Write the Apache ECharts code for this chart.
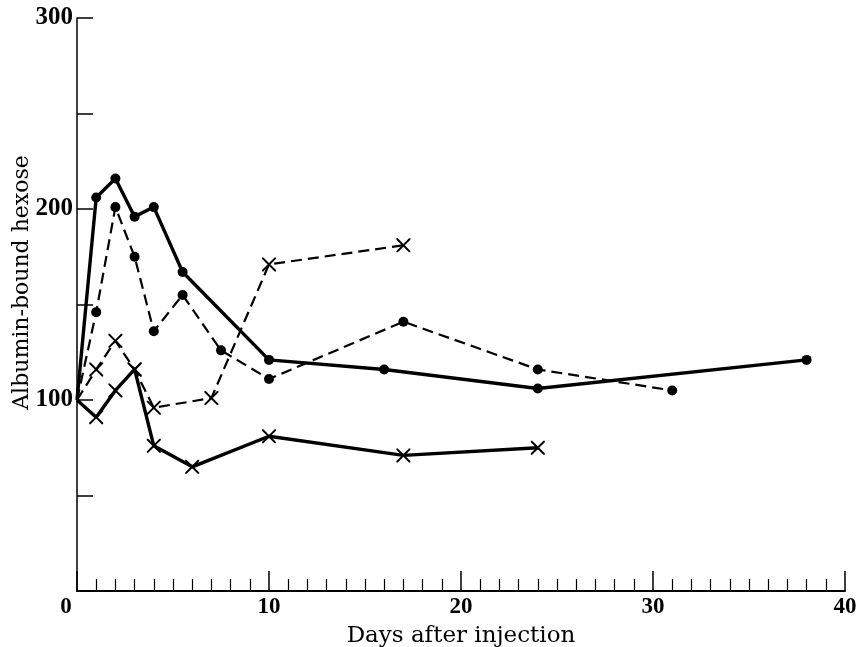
<!DOCTYPE html>
<html>
<head>
<meta charset="utf-8">
<script src="https://cdn.jsdelivr.net/npm/echarts@6/dist/echarts.min.js"></script>
<style>
  html, body { margin: 0; padding: 0; background: #fff; }
  #chart { width: 856px; height: 647px; }
</style>
</head>
<body>
<div id="chart"></div>
<script>
// days and values
const solidDotDays = [0, 1, 2, 3, 4, 5.5, 10, 16, 24, 38]
const solidDotVals = [100, 206, 216, 196, 201, 167, 121, 116, 106, 121]

const dashDotDays = [0, 1, 2, 3, 4, 5.5, 7.5, 10, 17, 24, 31]
const dashDotVals = [100, 146, 201, 175, 136, 155, 126, 111, 141, 116, 105]

const dashCrossDays = [0, 1, 2, 3, 4, 7, 10, 17]
const dashCrossVals = [100, 116, 131, 116, 96, 101, 171, 181]

const solidCrossDays = [0, 1, 2, 3, 4, 6, 10, 17, 24]
const solidCrossVals = [100, 91, 105, 116, 76, 65, 81, 71, 75]

const yLabels = [100, 200, 300]

const labelFont = 'Liberation Serif'
const titleFont = 'DejaVu Serif'
const cross = 'path://M0,0 L1,0 L5,4 L9,0 L10,0 L10,1 L6,5 L10,9 L10,10 L9,10 L5,6 L1,10 L0,10 L0,9 L4,5 L0,1 Z'

// the starting point (day 0) is drawn without a marker
function pairs(xs, ys) {
  return xs.map((x, i) => i === 0 ? { value: [x, ys[i]], symbol: 'none' } : [x, ys[i]])
}

function makeSeries(xs, ys, dashed, symbol) {
  return {
    type: 'line',
    data: pairs(xs, ys),
    symbol: symbol,
    symbolSize: symbol === 'circle' ? 10 : 14,
    showSymbol: true,
    itemStyle: { color: '#000' },
    lineStyle: {
      color: '#000',
      width: dashed ? 2.2 : 3.4,
      type: dashed ? [11, 6] : 'solid'
    },
    z: symbol === 'circle' ? 3 : 2
  }
}

let myChart = echarts.init(document.getElementById('chart'))
let option = {
  animation: false,
  backgroundColor: '#fff',
  grid: { left: 77, right: 11, top: 18, bottom: 56, outerBoundsMode: 'none', containLabel: false },
  xAxis: {
    type: 'value',
    min: 0,
    max: 40,
    interval: 10,
    name: 'Days after injection',
    nameLocation: 'middle',
    nameGap: 34,
    nameTextStyle: { fontFamily: titleFont, fontSize: 23, color: '#000' },
    axisLine: { lineStyle: { color: '#000', width: 2 } },
    axisTick: { inside: true, length: 20, lineStyle: { color: '#000', width: 1.5 } },
    minorTick: { show: true, splitNumber: 10, length: 12, lineStyle: { color: '#000', width: 1.2 } },
    splitLine: { show: false },
    axisLabel: {
      fontFamily: labelFont, fontSize: 23, fontWeight: 'bold', color: '#000', margin: 5,
      formatter: v => v === 0 ? '{z|0}' : String(v),
      rich: { z: { fontFamily: labelFont, fontSize: 23, fontWeight: 'bold', color: '#000', padding: [0, 22, 0, 0] } }
    }
  },
  yAxis: {
    type: 'value',
    min: 0,
    max: 300,
    interval: 50,
    name: 'Albumin-bound hexose',
    nameLocation: 'middle',
    nameRotate: 90,
    nameGap: 44,
    nameMoveOverlap: false,
    nameTextStyle: { fontFamily: titleFont, fontSize: 22, color: '#000', padding: [0, 0, 0, 44] },
    axisLine: { show: true, lineStyle: { color: '#000', width: 1.5 } },
    axisTick: { inside: true, length: 16, lineStyle: { color: '#000', width: 1.5 } },
    splitLine: { show: false },
    axisLabel: {
      fontFamily: labelFont, fontSize: 25, fontWeight: 'bold', color: '#000', margin: 4,
      formatter: v => yLabels.indexOf(v) >= 0 ? String(v) : ''
    }
  },
  series: [
    makeSeries(solidDotDays, solidDotVals, false, 'circle'),
    makeSeries(dashDotDays, dashDotVals, true, 'circle'),
    makeSeries(dashCrossDays, dashCrossVals, true, cross),
    makeSeries(solidCrossDays, solidCrossVals, false, cross)
  ]
}
myChart.setOption(option)
</script>
</body>
</html>
